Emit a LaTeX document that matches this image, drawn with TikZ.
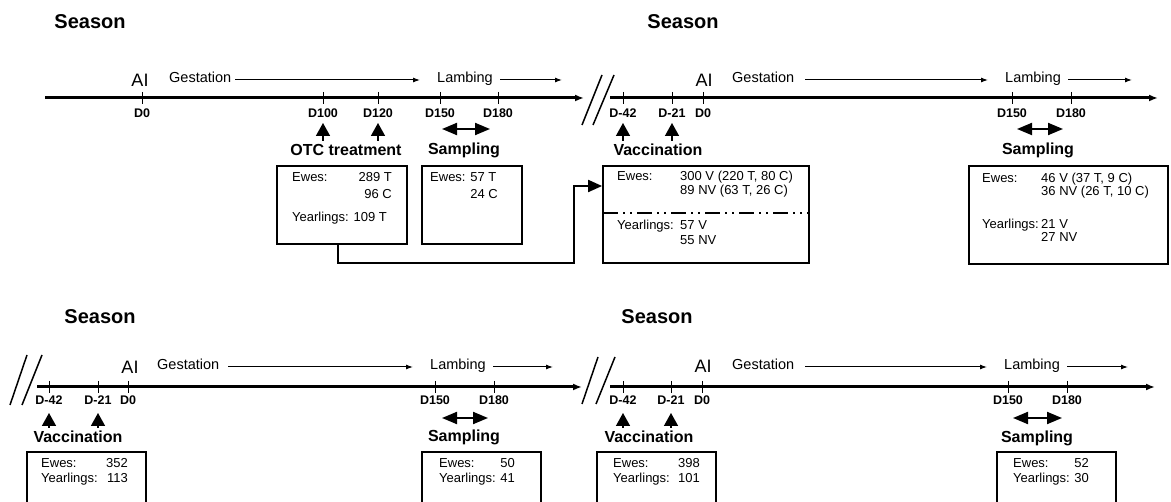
\documentclass[tikz,border=0pt]{standalone}
\usepackage{fontspec}
\setmainfont{Liberation Sans}
\usetikzlibrary{arrows.meta}
\begin{document}
\begin{tikzpicture}[x=1pt,y=-1pt,
  season/.style={font=\fontsize{20}{24}\selectfont\bfseries, inner sep=0},
  ailab/.style={font=\fontsize{18}{20}\selectfont, inner sep=0},
  phase/.style={font=\fontsize{14.5}{16}\selectfont, inner sep=0, anchor=mid west},
  tlab/.style={font=\fontsize{12.5}{14}\selectfont\bfseries, inner sep=0},
  evlab/.style={font=\fontsize{16}{18}\selectfont\bfseries, inner sep=0},
  btxt/.style={font=\fontsize{13}{15}\selectfont, inner sep=0, anchor=mid west},
  btxr/.style={font=\fontsize{13}{15}\selectfont, inner sep=0, anchor=mid east},
  timeline/.style={line width=3pt, -{Latex[length=9pt,width=7pt]}},
  tickmark/.style={line width=1pt},
  phasearrow/.style={line width=1pt, -{Latex[length=7pt,width=5pt]}},
  uparrow/.style={line width=1.5pt, -{Triangle[length=13pt,width=14pt]}},
  rangearrow/.style={line width=2pt, {Triangle[length=15pt,width=12pt]}-{Triangle[length=15pt,width=12pt]}},
  box/.style={draw, line width=1.8pt, inner sep=0},
  brk/.style={line width=1.5pt},
  conn/.style={line width=2pt, -{Triangle[length=14pt,width=12pt]}},
]
\useasboundingbox (0,0) rectangle (1171,502);
\clip (0,0) rectangle (1171,502);

% ---------- Season titles ----------
\node[season] (s1) at (90,22) {Season};
\node[season] (s2) at (683,22) {Season};
\node[season] (s3) at (100,317) {Season};
\node[season] (s4) at (657,317) {Season};

% ---------- break marks ----------
\draw[brk] (582,125) -- (602,75);
\draw[brk] (593,125) -- (614,75);
\draw[brk] (10,405) -- (27,355);
\draw[brk] (22,405) -- (42,355);
\draw[brk] (582,404) -- (598,357);
\draw[brk] (596,404) -- (615,357);

% ---------- timelines ----------
\coordinate (t1a) at (45,98);   \coordinate (t1b) at (584,98);
\coordinate (t2a) at (610,98);  \coordinate (t2b) at (1158,98);
\coordinate (t3a) at (37,387);  \coordinate (t3b) at (582,387);
\coordinate (t4a) at (610,387); \coordinate (t4b) at (1155,387);
\draw[timeline] (t1a) -- (t1b);
\draw[timeline] (t2a) -- (t2b);
\draw[timeline] (t3a) -- (t3b);
\draw[timeline] (t4a) -- (t4b);

% ticks and labels, top row
\foreach \x/\l/\n in {142/D0/a0,323/D100/a1,378/D120/a2,440/D150/a3,498/D180/a4,
                      623/D-42/b0,672/D-21/b1,703/D0/b2,1012/D150/b3,1071/D180/b4}{
  \draw[tickmark] (\x,92) -- (\x,104);
  \node[tlab] (tl\n) at (\x,113) {\l};
}
% ticks and labels, bottom row
\foreach \x/\l/\n in {49/D-42/c0,98/D-21/c1,128/D0/c2,435/D150/c3,494/D180/c4,
                      623/D-42/d0,671/D-21/d1,702/D0/d2,1008/D150/d3,1067/D180/d4}{
  \draw[tickmark] (\x,381) -- (\x,393);
  \node[tlab] (tl\n) at (\x,400) {\l};
}

% ---------- AI / Gestation / Lambing ----------
\node[ailab] (ai1) at (140,80) {AI};
\node[phase] (g1) at (169,80) {Gestation};
\coordinate (g1a) at (235,80); \coordinate (g1b) at (420,80);
\draw[phasearrow] (g1a) -- (g1b);
\node[phase] (l1) at (437,80) {Lambing};
\coordinate (l1a) at (500,80); \coordinate (l1b) at (562,80);
\draw[phasearrow] (l1a) -- (l1b);

\node[ailab] (ai2) at (704,80) {AI};
\node[phase] (g2) at (732,80) {Gestation};
\coordinate (g2a) at (805,80); \coordinate (g2b) at (988,80);
\draw[phasearrow] (g2a) -- (g2b);
\node[phase] (l2) at (1005,80) {Lambing};
\coordinate (l2a) at (1068,80); \coordinate (l2b) at (1132,80);
\draw[phasearrow] (l2a) -- (l2b);

\node[ailab] (ai3) at (130,367) {AI};
\node[phase] (g3) at (157,367) {Gestation};
\coordinate (g3a) at (228,367); \coordinate (g3b) at (413,367);
\draw[phasearrow] (g3a) -- (g3b);
\node[phase] (l3) at (430,367) {Lambing};
\coordinate (l3a) at (493,367); \coordinate (l3b) at (553,367);
\draw[phasearrow] (l3a) -- (l3b);

\node[ailab] (ai4) at (703,366) {AI};
\node[phase] (g4) at (732,367) {Gestation};
\coordinate (g4a) at (805,367); \coordinate (g4b) at (987,367);
\draw[phasearrow] (g4a) -- (g4b);
\node[phase] (l4) at (1004,367) {Lambing};
\coordinate (l4a) at (1067,367); \coordinate (l4b) at (1128,367);
\draw[phasearrow] (l4a) -- (l4b);

% ---------- event arrows and labels ----------
\foreach \x in {323,378,623,672}{ \draw[uparrow] (\x,141) -- (\x,123); }
\foreach \x in {49,98,623,671}{ \draw[uparrow] (\x,428) -- (\x,413); }
\coordinate (r1a) at (442,129); \coordinate (r1b) at (490,129);
\coordinate (r2a) at (1017,129); \coordinate (r2b) at (1063,129);
\coordinate (r3a) at (442,418); \coordinate (r3b) at (488,418);
\coordinate (r4a) at (1013,418); \coordinate (r4b) at (1062,418);
\draw[rangearrow] (r1a) -- (r1b);
\draw[rangearrow] (r2a) -- (r2b);
\draw[rangearrow] (r3a) -- (r3b);
\draw[rangearrow] (r4a) -- (r4b);

\node[evlab] (e1) at (346,150) {OTC treatment};
\node[evlab] (e2) at (464,150) {Sampling};
\node[evlab] (e3) at (658,150) {Vaccination};
\node[evlab] (e4) at (1038,150) {Sampling};
\node[evlab] (e5) at (78,437) {Vaccination};
\node[evlab] (e6) at (464,437) {Sampling};
\node[evlab] (e7) at (649,437) {Vaccination};
\node[evlab] (e8) at (1037,438) {Sampling};

% ---------- boxes ----------
\node[box, minimum width=130pt, minimum height=78pt] (b1) at (342,205) {};
\node[box, minimum width=100pt, minimum height=78pt] (b2) at (472,205) {};
\node[box, minimum width=206pt, minimum height=97pt] (b3) at (706,214.5) {};
\node[box, minimum width=199pt, minimum height=98pt] (b4) at (1068.5,215) {};
\node[box, minimum width=119pt, minimum height=60pt] (b5) at (86.5,482) {};
\node[box, minimum width=119pt, minimum height=60pt] (b6) at (481.5,482) {};
\node[box, minimum width=119pt, minimum height=60pt] (b7) at (656.5,482) {};
\node[box, minimum width=119pt, minimum height=60pt] (b8) at (1056.5,482) {};

% dash-dot-dot separator in box 3
\coordinate (sepa) at (603,213); \coordinate (sepb) at (809,213);
\draw[line width=1.8pt, dash pattern=on 15pt off 5pt on 2pt off 5pt on 2pt off 5pt] (sepa) -- (sepb);

% box 1 text
\node[btxt] (b1e) at (292,179) {Ewes:};
\node[btxr] (b1v1) at (392,179) {289 T};
\node[btxr] (b1v2) at (392,196) {96 C};
\node[btxt] (b1y) at (292,219) {Yearlings: 109 T};
% box 2 text
\node[btxt] (b2e) at (430,179) {Ewes: 57 T};
\node[btxr] (b2v2) at (498,196) {24 C};
% box 3 text
\node[btxt] (b3e) at (617,178) {Ewes:};
\node[btxt] (b3v1) at (680,178) {300 V (220 T, 80 C)};
\node[btxt] (b3v2) at (680,192) {89 NV (63 T, 26 C)};
\node[btxt] (b3y) at (617,227) {Yearlings:};
\node[btxt] (b3w1) at (680,227) {57 V};
\node[btxt] (b3w2) at (680,242) {55 NV};
% box 4 text
\node[btxt] (b4e) at (982,180) {Ewes:};
\node[btxt] (b4v1) at (1041,180) {46 V (37 T, 9 C)};
\node[btxt] (b4v2) at (1041,193) {36 NV (26 T, 10 C)};
\node[btxt] (b4y) at (982,226) {Yearlings:};
\node[btxt] (b4w1) at (1041,226) {21 V};
\node[btxt] (b4w2) at (1041,239) {27 NV};
% bottom boxes text
\node[btxt] (b5e) at (41,465) {Ewes:};
\node[btxr] (b5v) at (128,465) {352};
\node[btxt] (b5y) at (41,480) {Yearlings:};
\node[btxr] (b5w) at (128,480) {113};
\node[btxt] (b6e) at (439,465) {Ewes:};
\node[btxr] (b6v) at (515,465) {50};
\node[btxt] (b6y) at (439,480) {Yearlings:};
\node[btxr] (b6w) at (515,480) {41};
\node[btxt] (b7e) at (613,465) {Ewes:};
\node[btxr] (b7v) at (700,465) {398};
\node[btxt] (b7y) at (613,480) {Yearlings:};
\node[btxr] (b7w) at (700,480) {101};
\node[btxt] (b8e) at (1013,465) {Ewes:};
\node[btxr] (b8v) at (1089,465) {52};
\node[btxt] (b8y) at (1013,480) {Yearlings:};
\node[btxr] (b8w) at (1089,480) {30};

% ---------- connector from box 1 to box 3 ----------
\coordinate (cc) at (574,263);
\draw[conn] ([xshift=-4pt]b1.south) |- (cc) |- ([yshift=28.5pt]b3.west);
\end{tikzpicture}
\end{document}
